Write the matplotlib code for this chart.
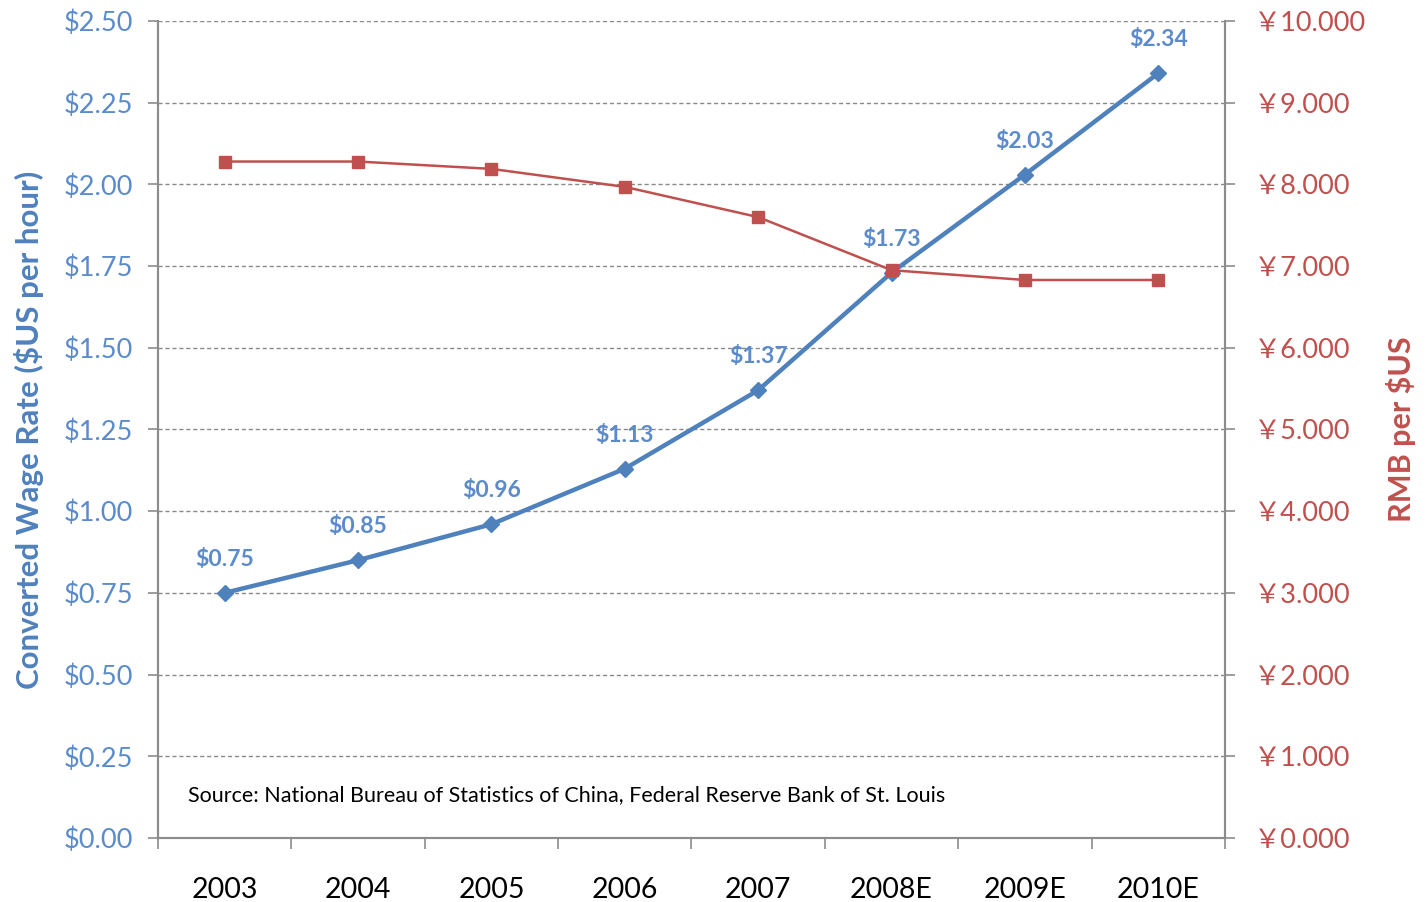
import matplotlib.pyplot as plt
from matplotlib.ticker import FuncFormatter, MultipleLocator

plt.rcParams['font.family'] = ['Lato', 'Noto Sans CJK SC', 'DejaVu Sans']

# Wage and exchange rate series
years = ['2003', '2004', '2005', '2006', '2007', '2008E', '2009E', '2010E']
wage_usd = [0.75, 0.85, 0.96, 1.13, 1.37, 1.73, 2.03, 2.34]
rmb_per_usd = [8.28, 8.28, 8.19, 7.97, 7.60, 6.95, 6.83, 6.83]

blue = '#4F81BD'
blue_text = '#5B8BCB'
red = '#C0504D'
gray = '#8C8C8C'

fig = plt.figure(figsize=(14.27, 9.02), dpi=100)
ax = fig.add_axes([0.1107, 0.071, 0.7477, 0.9057])
ax2 = ax.twinx()

x = list(range(len(years)))
ax.plot(x, wage_usd, color=blue, lw=3.2, marker='D', ms=8, zorder=3)
ax2.plot(x, rmb_per_usd, color=red, lw=1.8, marker='s', ms=8.5, zorder=3)

for xi, v in zip(x, wage_usd):
    ax.annotate(f'${v:.2f}', (xi, v), xytext=(0, 24), textcoords='offset points',
                ha='center', va='center', color=blue_text, fontsize=16.5, fontweight='bold')

ax.set_xlim(-0.5, len(years) - 0.5)
ax.set_ylim(0, 2.5)
ax2.set_ylim(0, 10)
ax.yaxis.set_major_locator(MultipleLocator(0.25))
ax2.yaxis.set_major_locator(MultipleLocator(1))
ax.yaxis.set_major_formatter(FuncFormatter(lambda v, p: f'${v:.2f}'))
ax2.yaxis.set_major_formatter(FuncFormatter(lambda v, p: f'\uffe5{v:.3f}'))

# category labels centred, tick marks on the category boundaries
ax.set_xticks(x)
ax.set_xticklabels(years)
ax.set_xticks([i - 0.5 for i in range(len(years) + 1)], minor=True)
ax.tick_params(axis='x', which='major', length=0, pad=28, labelsize=20.5, labelcolor='black')
ax.tick_params(axis='x', which='minor', length=8, width=1.2, color=gray, direction='out')
ax.tick_params(axis='y', length=7, width=1.2, color=gray, labelsize=19.5,
               labelcolor=blue_text, pad=11)
ax2.tick_params(axis='y', length=7, width=1.2, color=gray, labelsize=19.5,
                labelcolor=red, pad=14)

ax.grid(axis='y', color='#8a8a8a', ls=(0, (3, 2)), lw=1)
ax.set_axisbelow(True)
for a in (ax, ax2):
    a.spines['top'].set_visible(False)
    for s in ('left', 'right', 'bottom'):
        a.spines[s].set_color(gray)
        a.spines[s].set_linewidth(1.5)

ax.set_ylabel('Converted Wage Rate ($US per hour)', color=blue, fontsize=22.5,
              fontweight='bold', labelpad=14)
ax2.set_ylabel('RMB per $US', color=red, fontsize=22, fontweight='bold', labelpad=14)

ax.text(0.028, 0.052, 'Source: National Bureau of Statistics of China, Federal Reserve Bank of St. Louis',
        transform=ax.transAxes, fontsize=15.5, color='black', ha='left', va='center')

fig.savefig('out.png', dpi=100)
